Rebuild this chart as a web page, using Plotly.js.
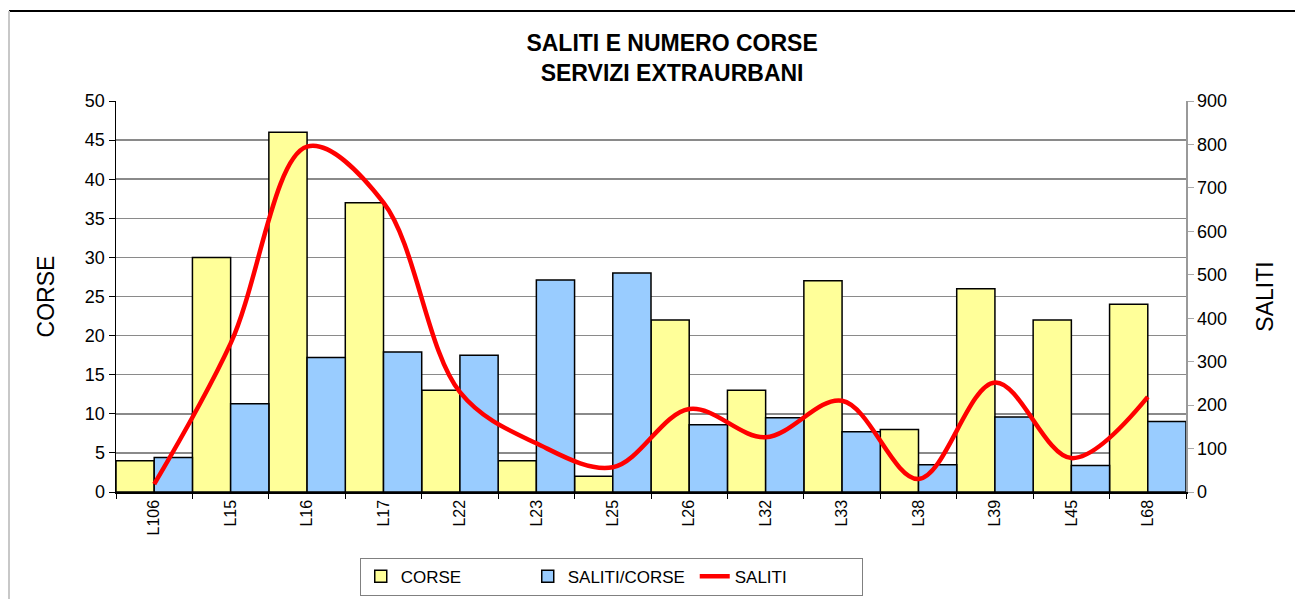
<!DOCTYPE html>
<html>
<head>
<meta charset="utf-8">
<script src="https://cdn.plot.ly/plotly-3.0.1.min.js"></script>
<style>
  html, body { margin: 0; padding: 0; background: #fff; }
  #wrap { position: relative; width: 1295px; height: 599px; overflow: hidden; }
  #chart { position: absolute; left: 0; top: 0; width: 1295px; height: 599px; }
  #frameTop { position: absolute; left: 9px; top: 10px; width: 1290px; height: 0; border-top: 2px solid #000; }
  #frameLeft { position: absolute; left: 8px; top: 11px; width: 0; height: 600px; border-left: 2px solid #c8c8c8; }
</style>
</head>
<body>
<div id="wrap">
  <div id="chart"></div>
  <div id="frameTop"></div>
  <div id="frameLeft"></div>
</div>
<script>
const categories = ["L106", "L15", "L16", "L17", "L22", "L23", "L25", "L26", "L32", "L33", "L38", "L39", "L45", "L68"];
const corse = [4, 30, 46, 37, 13, 4, 2, 22, 13, 27, 8, 26, 22, 24];
const salitiCorse = [4.4, 11.3, 17.2, 17.9, 17.5, 27.1, 28.0, 8.6, 9.5, 7.7, 3.5, 9.6, 3.4, 9.0];
const saliti = [18, 342, 795, 666, 230, 112, 57, 191, 126, 210, 30, 252, 78, 219];
const leftTicks = [0, 5, 10, 15, 20, 25, 30, 35, 40, 45, 50];
const rightTicks = [0, 100, 200, 300, 400, 500, 600, 700, 800, 900];

const FONT = "Liberation Sans, Arial, sans-serif";

const traces = [
  {
    type: "bar", name: "CORSE", x: categories, y: corse,
    marker: { color: "#FFFF99", line: { color: "#000", width: 1.5 } },
    yaxis: "y"
  },
  {
    type: "bar", name: "SALITI/CORSE", x: categories, y: salitiCorse,
    marker: { color: "#99CCFF", line: { color: "#000", width: 1.5 } },
    yaxis: "y"
  },
  {
    type: "scatter", mode: "lines", name: "SALITI", x: categories, y: saliti,
    line: { color: "#FF0000", width: 4.5, shape: "spline", smoothing: 1 },
    yaxis: "y2"
  }
];

const layout = {
  width: 1295, height: 599,
  margin: { l: 116, r: 109, t: 101, b: 107, autoexpand: false },
  paper_bgcolor: "#fff", plot_bgcolor: "#fff",
  font: { family: FONT, color: "#000", size: 16 },
  title: {
    text: "<b>SALITI E NUMERO CORSE<br>SERVIZI EXTRAURBANI</b>",
    font: { family: FONT, size: 23, color: "#000" },
    x: 0.519, xanchor: "center", y: 0.915, yanchor: "top"
  },
  barmode: "group", bargap: 0, bargroupgap: 0,
  showlegend: true,
  legend: {
    orientation: "h", xref: "container", yref: "container",
    x: 0.472, xanchor: "center", y: 0.069, yanchor: "top",
    bordercolor: "#808080", borderwidth: 1, bgcolor: "#fff",
    font: { family: FONT, size: 17, color: "#000" },
    traceorder: "normal", entrywidth: 122, entrywidthmode: "pixels"
  },
  xaxis: {
    type: "category", categoryarray: categories, automargin: false,
    showline: true, linecolor: "#000", linewidth: 1.5,
    ticks: "outside", tickson: "boundaries", ticklen: 5, tickcolor: "#000",
    tickangle: -90, tickfont: { family: FONT, size: 16, color: "#000" },
    showgrid: false, zeroline: false
  },
  yaxis: {
    range: [0, 50], tickvals: leftTicks, automargin: false,
    showline: true, linecolor: "#000", linewidth: 1.5,
    ticks: "outside", ticklen: 6, tickcolor: "#000",
    tickfont: { family: FONT, size: 18, color: "#000" },
    showgrid: true, gridcolor: "#8a8a8a", gridwidth: 1.5, zeroline: false,
    title: { text: "CORSE", font: { family: FONT, size: 23, color: "#000" }, standoff: 24 }
  },
  yaxis2: {
    range: [0, 900], tickvals: rightTicks, overlaying: "y", side: "right", automargin: false,
    showline: true, linecolor: "#999", linewidth: 1.5,
    ticks: "outside", ticklen: 6, tickcolor: "#aaa",
    tickfont: { family: FONT, size: 18, color: "#000" },
    showgrid: false, zeroline: false,
    title: { text: "SALITI", font: { family: FONT, size: 23, color: "#000" }, standoff: 31 }
  }
};

Plotly.newPlot("chart", traces, layout, { displayModeBar: false, staticPlot: true });
</script>
</body>
</html>
